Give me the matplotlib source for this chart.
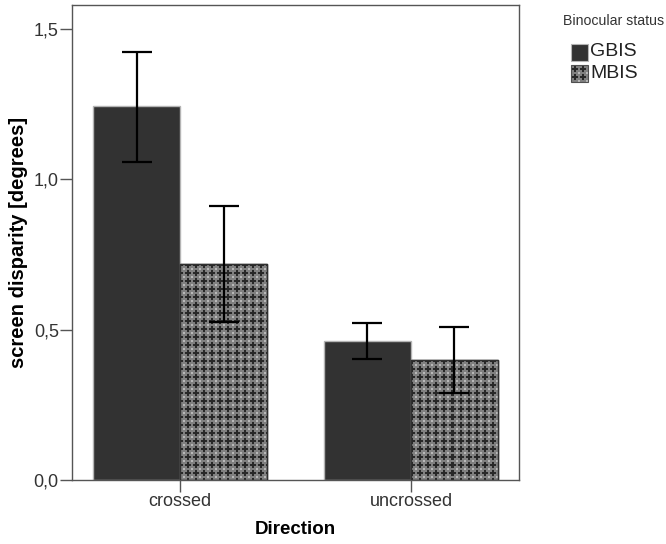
import numpy as np
import matplotlib
matplotlib.use("Agg")
import matplotlib.pyplot as plt
from matplotlib.patches import Rectangle

plt.rcParams['font.family'] = ['Liberation Sans', 'DejaVu Sans']

directions = ["crossed", "uncrossed"]
groups = ["GBIS", "MBIS"]
means = {"GBIS": [1.244, 0.462], "MBIS": [0.718, 0.399]}
err_low = {"GBIS": [1.057, 0.402], "MBIS": [0.525, 0.289]}
err_high = {"GBIS": [1.423, 0.522], "MBIS": [0.911, 0.509]}
yticks = [0.0, 0.5, 1.0, 1.5]
ytick_labels = ["0,0", "0,5", "1,0", "1,5"]

W, H = 666, 544
fig = plt.figure(figsize=(W / 100, H / 100), dpi=100)
ax_px = (72, 64, 447, 475)  # left, bottom, width, height in pixels
ax = fig.add_axes([ax_px[0] / W, ax_px[1] / H, ax_px[2] / W, ax_px[3] / H])

xlim = (-0.468, 1.468)
ylim = (0.0, 1.58)


def texture(h, w):
    """Grey fill with dark plus signs on an 8-px grid."""
    tile = np.full((8, 8), 0.50)
    tile[3:5, 1:7] = 0.16
    tile[1:7, 3:5] = 0.16
    tile[0, 0] = tile[7, 7] = tile[0, 7] = tile[7, 0] = 0.72
    reps = (h // 8 + 2, w // 8 + 2)
    return np.tile(tile, reps)[:h, :w]


x = np.arange(len(directions))
width = 0.377
colors = {"GBIS": "#323232", "MBIS": "#808080"}
edges = {"GBIS": "#b4b4b4", "MBIS": "#303030"}
offsets = {"GBIS": -width / 2, "MBIS": width / 2}

pattern = texture(ax_px[3], ax_px[2])
for g in groups:
    bars = ax.bar(x + offsets[g], means[g], width, color=colors[g],
                  edgecolor=edges[g], linewidth=1.0, zorder=2)
    if g == "MBIS":
        for b in bars:
            im = ax.imshow(pattern, cmap="gray", vmin=0, vmax=1,
                           extent=(xlim[0], xlim[1], ylim[0], ylim[1]),
                           origin="upper", interpolation="nearest",
                           aspect="auto", zorder=2.5)
            im.set_clip_path(b)
            ax.bar(b.get_x() + b.get_width() / 2, b.get_height(), width,
                   fill=False, edgecolor=edges[g], linewidth=1.0, zorder=3)
    lo = np.array(means[g]) - np.array(err_low[g])
    hi = np.array(err_high[g]) - np.array(means[g])
    ax.errorbar(x + offsets[g], means[g], yerr=[lo, hi], fmt="none",
                ecolor="black", elinewidth=1.6, capsize=11, capthick=1.6,
                zorder=4)

ax.set_xlim(*xlim)
ax.set_ylim(*ylim)
ax.set_xticks(x)
ax.set_xticklabels(directions)
ax.set_yticks(yticks)
ax.set_yticklabels(ytick_labels)
ax.tick_params(axis="both", length=8.5, width=1.0, color="#555555",
               labelsize=13, labelcolor="#333333", pad=1)
for s in ax.spines.values():
    s.set_color("#555555")
    s.set_linewidth(1.0)

ax.set_xlabel("Direction", fontsize=13.5, fontweight="bold", labelpad=8)
ax.set_ylabel("screen disparity [degrees]", fontsize=14.5, fontweight="bold",
              labelpad=4)

# legend: title, swatches and labels placed in figure pixels
def fx(px):
    return px / W


def fy(py):
    return 1 - py / H


fig.text(fx(563), fy(21), "Binocular status", fontsize=10.2, color="#333333",
         ha="left", va="center")
sw = 17
rows = [("GBIS", 52), ("MBIS", 73)]
for (g, yc) in rows:
    if g == "GBIS":
        fig.patches.append(Rectangle((fx(571), fy(yc + sw / 2)), sw / W, sw / H,
                                     transform=fig.transFigure,
                                     facecolor=colors[g], edgecolor="#b4b4b4",
                                     linewidth=0.8))
    else:
        fig.figimage(texture(sw, sw), xo=571, yo=int(H - (yc + sw / 2)),
                     cmap="gray", vmin=0, vmax=1, zorder=1)
        fig.patches.append(Rectangle((fx(571), fy(yc + sw / 2)), sw / W, sw / H,
                                     transform=fig.transFigure, fill=False,
                                     edgecolor="#505050", linewidth=0.8,
                                     zorder=2))
    fig.text(fx(590), fy(yc), g, fontsize=14, color="#222222",
             ha="left", va="center")

fig.savefig("out.png", dpi=100)
